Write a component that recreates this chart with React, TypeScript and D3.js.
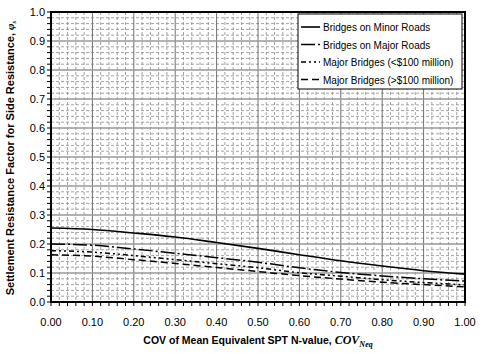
import React from "react";
import * as d3 from "d3";

const covValues = [0, 0.1, 0.2, 0.3, 0.4, 0.5, 0.6, 0.7, 0.8, 0.9, 1.0];
const minorRoads = [0.255, 0.25, 0.238, 0.224, 0.205, 0.185, 0.163, 0.142, 0.124, 0.108, 0.096];
const majorRoads = [0.2, 0.196, 0.183, 0.168, 0.153, 0.137, 0.118, 0.102, 0.09, 0.08, 0.072];
const majorUnder100 = [0.177, 0.172, 0.16, 0.146, 0.132, 0.118, 0.101, 0.089, 0.077, 0.067, 0.059];
const majorOver100 = [0.163, 0.158, 0.146, 0.133, 0.119, 0.105, 0.091, 0.079, 0.068, 0.06, 0.052];
const seriesNames = [
  "Bridges on Minor Roads",
  "Bridges on Major Roads",
  "Major Bridges (<$100 million)",
  "Major Bridges (>$100 million)",
];
const seriesData = [minorRoads, majorRoads, majorUnder100, majorOver100];
const seriesDash = ["", "14,3,2,3", "5,3,2,3,2,3", "7,4"];
const xTicks = d3.range(0, 1.0001, 0.1);
const yTicks = d3.range(0, 1.0001, 0.1);

export default function App() {
  const W = 482, H = 353;
  const left = 51, right = 465, top = 12, bottom = 302;
  const x = d3.scaleLinear().domain([0, 1]).range([left, right]);
  const y = d3.scaleLinear().domain([0, 1]).range([bottom, top]);
  const minor = d3.range(0, 1.0001, 0.02);
  const line = d3
    .line<[number, number]>()
    .x((d) => x(d[0]))
    .y((d) => y(d[1]))
    .curve(d3.curveMonotoneX);
  const font = "'Liberation Sans', Arial, sans-serif";
  const serif = "'Liberation Serif', 'Times New Roman', serif";
  const legX = 298, legY = 14, legW = 164, legH = 75;
  return (
    <svg width={W} height={H} style={{ position: "absolute", left: 0, top: 0, background: "#fff" }}>
      <rect x={0} y={0} width={W} height={H} fill="#fff" />
      {minor.map((v, i) =>
        i % 5 === 0 ? null : (
          <g key={"mg" + i}>
            <line x1={x(v)} x2={x(v)} y1={top} y2={bottom} stroke="#8c8c8c" strokeWidth={0.8} strokeDasharray="3,2" />
            <line x1={left} x2={right} y1={y(v)} y2={y(v)} stroke="#8c8c8c" strokeWidth={0.8} strokeDasharray="3,2" />
          </g>
        )
      )}
      {xTicks.map((v, i) => (
        <line key={"gx" + i} x1={x(v)} x2={x(v)} y1={top} y2={bottom} stroke="#707070" strokeWidth={1} />
      ))}
      {yTicks.map((v, i) => (
        <line key={"gy" + i} x1={left} x2={right} y1={y(v)} y2={y(v)} stroke="#999" strokeWidth={1.5} />
      ))}
      {seriesData.map((s, k) => (
        <path
          key={"s" + k}
          d={line(covValues.map((c, i) => [c, s[i]] as [number, number])) || ""}
          fill="none"
          stroke="#000"
          strokeWidth={k === 0 ? 1.6 : 1.5}
          strokeDasharray={seriesDash[k]}
        />
      ))}
      <rect x={left} y={top} width={right - left} height={bottom - top} fill="none" stroke="#000" strokeWidth={2} />
      {minor.map((v, i) => (
        <g key={"t" + i}>
          <line x1={left - 4} x2={left} y1={y(v)} y2={y(v)} stroke="#000" strokeWidth={1} />
          <line x1={x(v)} x2={x(v)} y1={bottom} y2={bottom + 4} stroke="#000" strokeWidth={1} />
        </g>
      ))}
      {yTicks.map((v, i) => (
        <text key={"yl" + i} x={left - 6} y={y(v) + 4} fontFamily={font} fontSize={11} textAnchor="end" fill="#000">
          {v.toFixed(1)}
        </text>
      ))}
      {xTicks.map((v, i) => (
        <text key={"xl" + i} x={x(v)} y={bottom + 24} fontFamily={font} fontSize={11} textAnchor="middle" fill="#000">
          {v.toFixed(2)}
        </text>
      ))}
      <text x={258} y={344} fontFamily={font} fontSize={10.5} fontWeight="bold" textAnchor="middle" fill="#000">
        COV of Mean Equivalent SPT N-value,{" "}
        <tspan fontFamily={serif} fontStyle="italic" fontSize={12}>COV</tspan>
        <tspan fontFamily={serif} fontStyle="italic" fontSize={8} dy={3}>Neq</tspan>
      </text>
      <text
        transform={`translate(14,${(top + bottom) / 2 + 1}) rotate(-90)`}
        fontFamily={font}
        fontSize={11}
        fontWeight="bold"
        textAnchor="middle"
        fill="#000"
      >
        Settlement Resistance Factor for Side Resistance,{" "}
        <tspan fontFamily={serif} fontStyle="italic" fontSize={11}>φ</tspan>
        <tspan fontFamily={serif} fontStyle="italic" fontSize={7} dy={2}>s</tspan>
      </text>
      <rect x={legX} y={legY} width={legW} height={legH} fill="#fff" stroke="#000" strokeWidth={1} />
      {seriesNames.map((n, k) => {
        const ly = legY + 13 + k * 17.5;
        return (
          <g key={"lg" + k}>
            <line x1={legX + 3} x2={legX + 22} y1={ly} y2={ly} stroke="#000" strokeWidth={1.6} strokeDasharray={seriesDash[k]} />
            <text x={legX + 25} y={ly + 4} fontFamily={font} fontSize={10} fill="#000">
              {n}
            </text>
          </g>
        );
      })}
    </svg>
  );
}
